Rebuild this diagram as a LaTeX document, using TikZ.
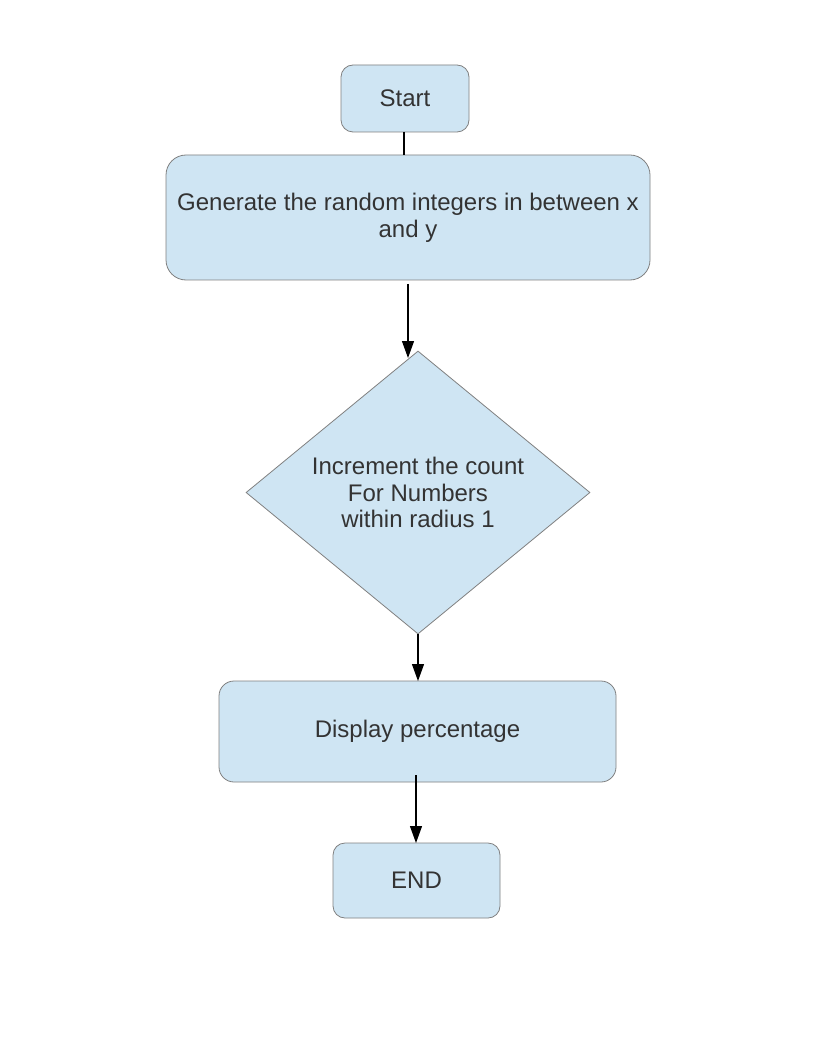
\documentclass[tikz,border=0pt]{standalone}
\usepackage{fontspec}
\setmainfont{Liberation Sans}
\usetikzlibrary{shapes.geometric,arrows.meta}
\definecolor{boxfill}{RGB}{207,229,243}
\definecolor{boxline}{RGB}{128,128,128}
\definecolor{txt}{RGB}{51,51,51}
\tikzset{
  flowbox/.style={draw=boxline,fill=boxfill,line width=0.8pt,inner sep=0pt,text=txt,
    font=\fontsize{24}{27}\selectfont,align=center},
  decisionbox/.style={draw=boxline,fill=boxfill,line width=0.8pt,inner sep=0pt,shape=diamond},
  arrowline/.style={line width=1.2pt,-{Triangle[length=17pt,width=12pt]}},
  plainline/.style={line width=1.2pt}
}
\begin{document}
\begin{tikzpicture}[x=1pt,y=-1pt]
\useasboundingbox (0,0) rectangle (816,1056);
\fill[white] (0,0) rectangle (816,1056);
\node[flowbox,rounded corners=12pt,minimum width=128pt,minimum height=67pt] (start) at (405,98.5) {Start};
\node[flowbox,rounded corners=20pt,minimum width=484pt,minimum height=125pt] (gen) at (408,217.5) {Generate the random integers in between x\\and y};
\node[decisionbox,minimum width=344pt,minimum height=283pt,
  label={[text=txt,font=\fontsize{24}{26.5}\selectfont,align=center]center:Increment the count\\For Numbers\hspace{7pt}\\ within radius 1}] (dec) at (418,492.5) {};
\node[flowbox,rounded corners=15pt,minimum width=397pt,minimum height=101pt] (disp) at (417.5,731.5) {Display percentage};
\node[flowbox,rounded corners=12pt,minimum width=167pt,minimum height=75pt] (end) at (416.5,880.5) {END};
\coordinate (g1) at (408,284);
\coordinate (g2) at (408,358);
\coordinate (d1) at (418,634);
\coordinate (d2) at (418,681);
\coordinate (p1) at (416,775);
\coordinate (p2) at (416,843);
\draw[plainline] (404,132) coordinate (s1) -- (404,155) coordinate (s2);
\draw[arrowline] (g1) -- (g2);
\draw[arrowline] (d1) -- (d2);
\draw[arrowline] (p1) -- (p2);
\end{tikzpicture}
\end{document}
